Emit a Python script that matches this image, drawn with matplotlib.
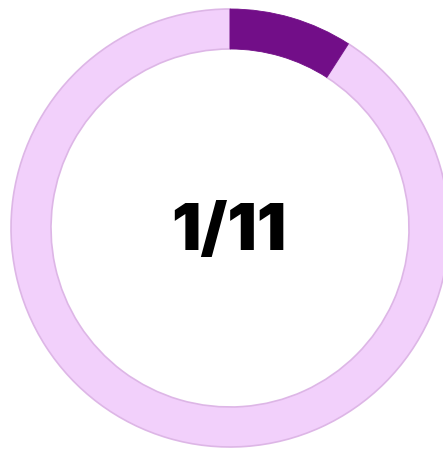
import matplotlib
matplotlib.use("Agg")
import matplotlib.pyplot as plt

completed = 1
total = 11
values = [completed, total - completed]
colors = ["#720E88", "#F2D0FB"]
label = f"{completed}/{total}"

W, H = 443, 449
fig = plt.figure(figsize=(W / 100, H / 100), dpi=100)
ax = fig.add_axes([0, 0, 1, 1])

cx, cy = 230, H - 228
wedges, _ = ax.pie(values, colors=colors, startangle=90, counterclock=False,
                   center=(cx, cy), radius=219, frame=True,
                   wedgeprops=dict(width=40, linewidth=1.2))
wedges[0].set_edgecolor("#720E88")
wedges[0].set_linewidth(0.6)
wedges[0].set_zorder(5)
wedges[1].set_edgecolor("#DDB6E6")
ax.set_xlim(0, W)
ax.set_ylim(0, H)
ax.set_aspect("equal")
ax.axis("off")

ax.text(cx - 1, cy - 5, label, ha="center", va="center", fontsize=47,
        fontweight=900, family="Inter", color="#000000")

fig.savefig("out.png", dpi=100)
